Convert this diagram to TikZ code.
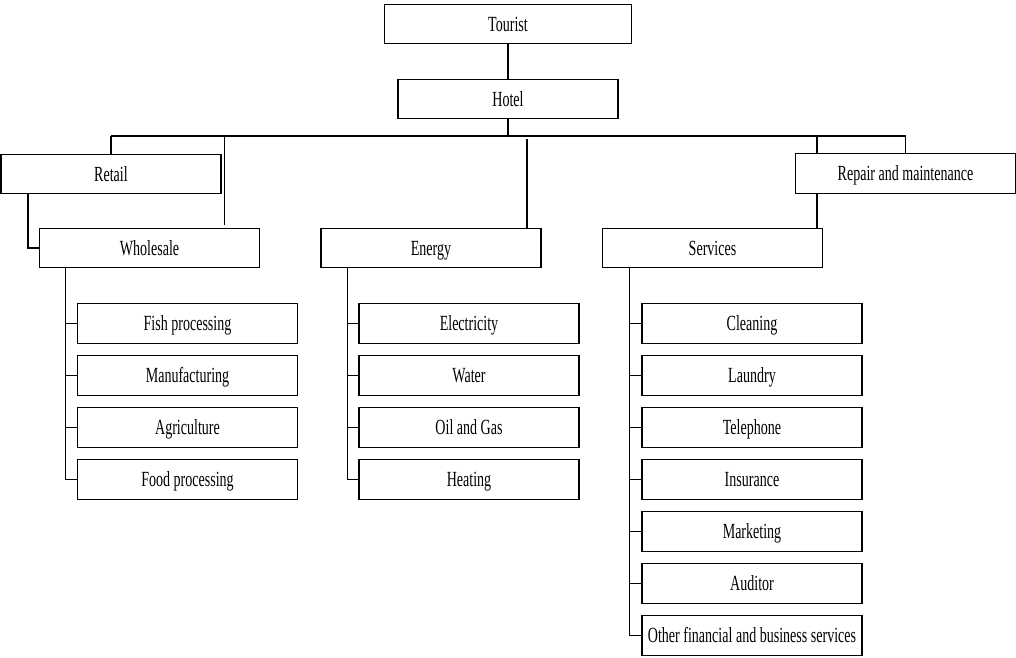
\documentclass[tikz,border=0pt]{standalone}
\usepackage{fontspec}
\setmainfont{Liberation Serif}
\usepackage{graphicx}
\newcommand\sx[1]{\scalebox{0.65}[1]{#1}}
\tikzset{
  box/.style={draw, line width=0.8pt, minimum width=165pt, minimum height=29.5pt,
    inner sep=0pt, text height=10.7pt, text depth=0pt,
    font=\fontsize{16.2}{18}\selectfont},
  widebox/.style={box, minimum width=185.25pt},
  conn/.style={line width=0.8pt}
}
\begin{document}
\begin{tikzpicture}[x=0.75pt, y=-0.75pt]
\useasboundingbox (0,0) rectangle (1016,657);
\node[widebox] (tourist) at (508,24) {\sx{Tourist}};
\node[box] (hotel) at (508,99) {\sx{Hotel}};
\node[box] (retail) at (111,174) {\sx{Retail}};
\node[box] (repair) at (905.5,173.5) {\sx{Repair and maintenance}};
\node[box] (wholesale) at (149.5,248) {\sx{Wholesale}};
\node[box] (energy) at (431,248) {\sx{Energy}};
\node[box] (services) at (712.5,248) {\sx{Services}};
\foreach \t [count=\i] in {Fish processing, Manufacturing, Agriculture, Food processing}
  \node[box] (w\i) at (187.5,{323.5+52*(\i-1)}) {\sx{\t}};
\foreach \t [count=\i] in {Electricity, Water, Oil and Gas, Heating}
  \node[box] (e\i) at (469,{323.5+52*(\i-1)}) {\sx{\t}};
\foreach \t [count=\i] in {Cleaning, Laundry, Telephone, Insurance, Marketing, Auditor, Other financial and business services}
  \node[box] (s\i) at (752,{323.5+52*(\i-1)}) {\sx{\t}};

\begin{scope}[conn]
\draw (tourist) -- (hotel);
\coordinate (b1) at (111,136);
\coordinate (b2) at (905.5,136);
\coordinate (b3) at (817,136);
\draw (hotel.south) -- (hotel.south |- b1);
\draw (b1) -- (b2);
\draw (b1) -- (retail.north);
\draw (b2) -- (repair.north);
\draw (b3) -- (b3 |- repair.north);
\draw (b3 |- repair.south) -- (b3 |- services.north);
\coordinate (f1) at (224.6,135);
\coordinate (f2) at (224.6,225);
\draw (f1) -- (f2);
\coordinate (f3) at (527,138.7);
\draw (f3) -- (f3 |- energy.north);
\coordinate (r1) at (28,194);
\draw (r1 |- retail.south) |- (wholesale.west);
\coordinate (wt) at (65.5,268);
\draw (wt |- wholesale.south) |- (w4.west);
\foreach \i in {1,2,3} \draw (wt |- w\i.west) -- (w\i.west);
\coordinate (et) at (347.5,268);
\draw (et |- energy.south) |- (e4.west);
\foreach \i in {1,2,3} \draw (et |- e\i.west) -- (e\i.west);
\coordinate (st) at (629.5,268);
\draw (st |- services.south) |- (s7.west);
\foreach \i in {1,...,6} \draw (st |- s\i.west) -- (s\i.west);
\end{scope}
\end{tikzpicture}
\end{document}
